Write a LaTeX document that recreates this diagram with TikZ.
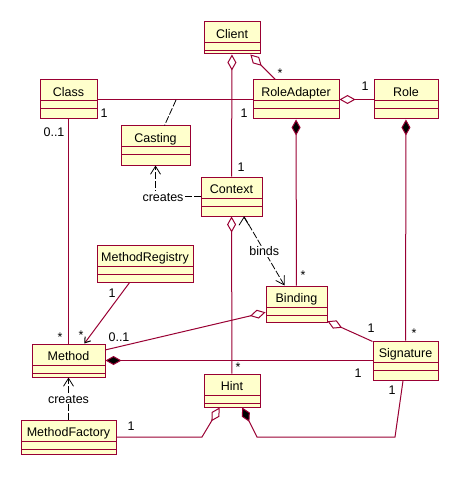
\documentclass[tikz,border=0pt]{standalone}
\usepackage{fontspec}
\setmainfont{Liberation Sans}
\usepackage{tikz}
\usetikzlibrary{arrows.meta,positioning,shapes}

\definecolor{umlred}{RGB}{153,0,51}
\definecolor{umlfill}{RGB}{255,255,204}

\begin{document}
\begin{tikzpicture}[x=1pt,y=-1pt,font=\fontsize{12.5}{15}\selectfont]
	\tikzset{
		umlclass/.style={draw=umlred, fill=umlfill, line width=1pt, inner sep=0pt,
			text height=16.5pt, text depth={#1-16.5pt},
			path picture={\draw[umlred, line width=1pt]
				([yshift=-21pt]path picture bounding box.north west) -- ([yshift=-21pt]path picture bounding box.north east)
				([yshift=-29pt]path picture bounding box.north west) -- ([yshift=-29pt]path picture bounding box.north east);}},
		mult/.style={inner sep=0pt, text height=9pt, text depth=0pt},
		assoc/.style={draw=umlred, line width=1pt},
		aggr/.style={arrows={Diamond[open,length=16pt,width=9pt]-}},
		comp/.style={arrows={Diamond[length=16pt,width=9pt,fill=black]-}},
		navig/.style={arrows={-Straight Barb[length=5pt,width=7pt,color=black]}},
		depend/.style={draw=black, line width=0.8pt, dash pattern=on 7pt off 2pt,
			arrows={-Straight Barb[length=8pt,width=10pt]}},
		deplabel/.style={fill=white, inner sep=1pt, text height=9pt, text depth=0pt}
	}
	\useasboundingbox (0,0) rectangle (460,481);
	% classes
	\node[umlclass=32pt, minimum width=56pt] (client) at (232,38) {Client};
	\node[umlclass=39pt, minimum width=86pt] (roleadapter) at (296,99.5) {RoleAdapter};
	\node[umlclass=39pt, minimum width=64pt] (role) at (406,99.5) {Role};
	\node[umlclass=39pt, minimum width=57pt] (class) at (68.5,99.5) {Class};
	\node[umlclass=39pt, minimum width=69pt] (casting) at (155.5,145.5) {Casting};
	\node[umlclass=39pt, minimum width=61pt] (context) at (231.5,196.5) {Context};
	\node[umlclass=37pt, minimum width=96pt] (methodregistry) at (145,263.5) {MethodRegistry};
	\node[umlclass=36pt, minimum width=61pt] (binding) at (296.5,304) {Binding};
	\node[umlclass=33pt, minimum width=73pt] (method) at (68.5,360.5) {Method};
	\node[umlclass=39pt, minimum width=65pt] (signature) at (405.5,360.5) {Signature};
	\node[umlclass=33pt, minimum width=56pt] (hint) at (232,390.5) {Hint};
	\node[umlclass=34pt, minimum width=95pt] (methodfactory) at (68.5,437) {MethodFactory};
	% bends
	\coordinate (castlink) at (176,100);
	\coordinate (mf-corner) at (202,437);
	\coordinate (sig-corner1) at (395,437);
	\coordinate (sig-corner2) at (257,437);
	% associations
	\path[assoc]
		(class) edge (roleadapter)
		(class) edge (method)
		(roleadapter) edge[aggr] (role)
		(client) edge[aggr] (context)
		(client.-42) edge[aggr] (roleadapter.136)
		(roleadapter) edge[comp] (binding)
		(role) edge[comp] (signature)
		(context) edge[aggr] (hint)
		(method) edge[comp] (signature)
		(binding.195) edge[aggr] (method.16)
		(binding.-29) edge[aggr] (signature.150)
		(methodregistry.-129) edge[navig] (method.47);
	\draw[assoc, aggr] (hint.-126) -- (mf-corner) -- (methodfactory);
	\draw[assoc, comp] (hint.-59) -- (sig-corner2) -- (sig-corner1) -- (signature.-97);
	\draw[black, line width=0.8pt, dash pattern=on 7pt off 2pt] (castlink) -- ([xshift=9pt]casting.north);
	% dependencies
	\path[depend]
		(context.-58) edge node[deplabel] {binds} (binding.123)
		(methodfactory) edge node[deplabel] {creates} (method);
	\draw[depend] (context) -| node[deplabel, xshift=7.5pt] {creates} (casting);
	% multiplicities
	\node[mult] (m-class-ra) at (104,113) {1};
	\node[mult] (m-ra-class) at (244,113) {1};
	\node[mult] (m-ra-client) at (280,73) {*};
	\node[mult] (m-role-ra) at (365,86) {1};
	\node[mult] (m-context-client) at (241,167) {1};
	\node[mult] (m-binding-ra) at (303,275) {*};
	\node[mult] (m-sig-role) at (414,333) {*};
	\node[mult] (m-class-method) at (54,132) {0..1};
	\node[mult] (m-method-class) at (60,337) {*};
	\node[mult] (m-reg-method) at (112,293) {1};
	\node[mult] (m-method-reg) at (81,335) {*};
	\node[mult] (m-method-binding) at (119,337) {0..1};
	\node[mult] (m-sig-method) at (358,373) {1};
	\node[mult] (m-sig-binding) at (371,328) {1};
	\node[mult] (m-hint-context) at (238,367) {*};
	\node[mult] (m-mf-hint) at (131,426) {1};
	\node[mult] (m-sig-hint) at (392,390) {1};
\end{tikzpicture}
\end{document}
